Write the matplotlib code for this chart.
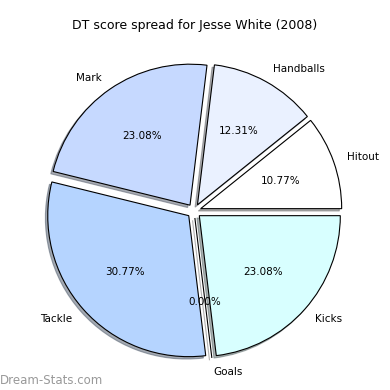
import matplotlib
matplotlib.use("Agg")
import matplotlib.pyplot as plt

labels = ["Hitout", "Handballs", "Mark", "Tackle", "Goals", "Kicks"]
values = [10.77, 12.31, 23.08, 30.77, 0.0, 23.08]
colors = ["#ffffff", "#eaf1ff", "#c6d9ff", "#b5d4ff", "#ffffff", "#d8ffff"]

fig = plt.figure(figsize=(3.9, 3.9), dpi=100)
ax = fig.add_axes([0.0275, -0.011, 0.94, 0.94])

ax.pie(values, labels=labels, colors=colors, autopct="%.2f%%",
       startangle=0, counterclock=True,
       shadow={"ox": -0.012, "oy": -0.012, "shade": 0.6},
       explode=[0.05] * len(values),
       wedgeprops=dict(edgecolor="black", linewidth=0.8),
       textprops=dict(fontsize=7.5))
ax.set_xlim(-1.3, 1.3)
ax.set_ylim(-1.3, 1.3)
ax.set_aspect("equal")
ax.axis("off")

fig.text(0.5, 0.935, "DT score spread for Jesse White (2008)",
         ha="center", va="center", fontsize=9)
fig.text(0.0, 0.025, "Dream-Stats.com", ha="left", va="center",
         fontsize=8.5, color="#999999")

fig.savefig("out.png", dpi=100)
